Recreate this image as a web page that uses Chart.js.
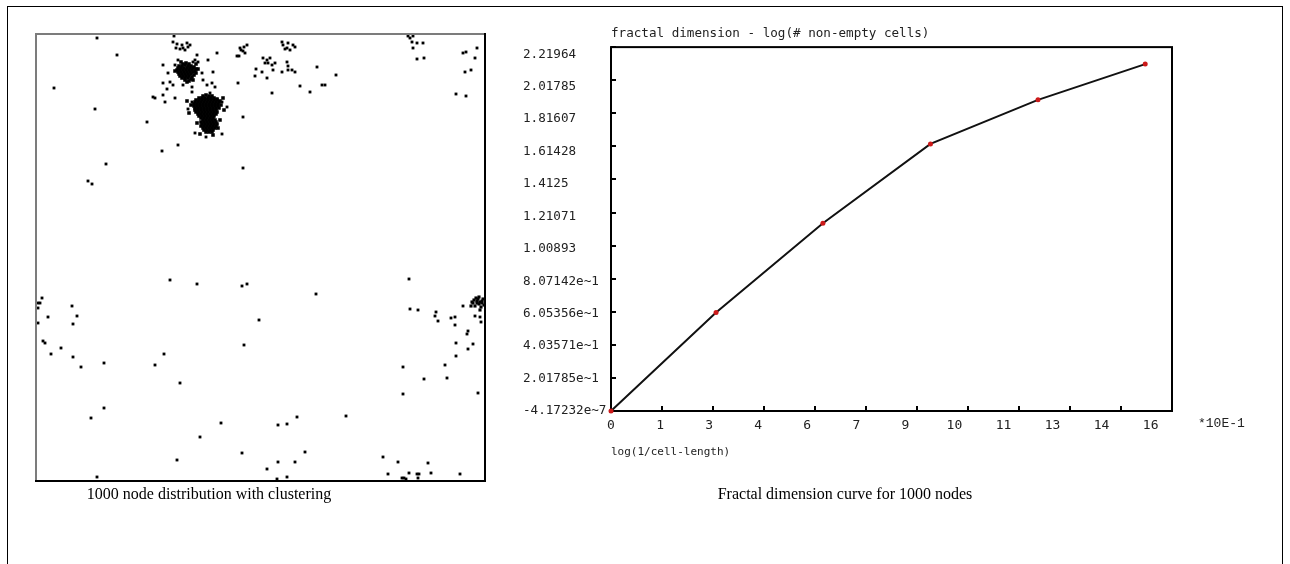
<!DOCTYPE html>
<html lang="en">
<head>
<meta charset="UTF-8">
<title>Fractal dimension of a clustered node distribution</title>
<script src="https://cdn.jsdelivr.net/npm/chart.js@4.4.1/dist/chart.umd.min.js"></script>
<style>
  html, body { margin: 0; padding: 0; background: #fff; }
  body { width: 1290px; height: 564px; position: relative; overflow: hidden; }
  #frame { position: absolute; left: 7px; top: 6px; width: 1274px; height: 600px; border: 1px solid #000; }
  canvas { position: absolute; }
  #nodes { left: 30px; top: 28px; }
  #fractal { left: 515px; top: 15px; }
  .caption { position: absolute; top: 485px; line-height: 18px; font-family: "Liberation Serif", "Times New Roman", serif;
             font-size: 16px; color: #000; white-space: nowrap; transform: translateX(-50%); }
</style>
</head>
<body>
<div id="frame"></div>
<canvas id="nodes" width="462" height="460"></canvas>
<canvas id="fractal" width="765" height="450"></canvas>
<div class="caption" style="left:209px">1000 node distribution with clustering</div>
<div class="caption" style="left:845px">Fractal dimension curve for 1000 nodes</div>
<script>
// ---- left panel: node positions (field units, y grows downwards) ----
const sparseNodes = [
  [60,3],[137,1],[80,20],[17,53],[58,74],[110,87],[125,116],[141,110],[69,129],[51,146],[55,149],
  [206,133],[206,82],[201,48],[219,34],[218,41],[180,18],
  [126,30],[131,38],[126,48],[136,50],[130,54],[116,62],[118,63],[126,60],[128,67],[138,63],
  [151,74],[155,67],[155,52],[160,20],[158,25],[165,38],[166,45],[171,25],[176,37],[170,50],
  [175,48],[178,52],[173,58],[185,67],[190,72],[158,98],[185,99],[169,102],[138,30],[141,25],
  [133,47],[146,50],[155,57],[156,27],[161,27],
  [136,7],[140,9],[145,10],[150,8],[153,10],[139,13],[143,14],[146,13],[148,15],[151,12],
  [203,13],[206,16],[208,18],[210,10],[200,21],[202,21],[204,15],[207,12],
  [245,7],[246,10],[251,8],[256,10],[250,13],[253,15],[248,14],[258,12],[226,23],[230,25],
  [231,28],[228,28],[233,23],[235,30],[238,28],[225,37],[236,35],[245,37],[250,27],[251,31],
  [255,35],[258,37],[251,35],[230,43],[235,58],[280,32],[263,51],[273,57],[285,50],[288,50],
  [299,40],[371,1],[373,3],[375,7],[380,8],[386,8],[376,1],[376,13],[380,24],[387,23],
  [426,18],[429,17],[440,13],[438,23],[428,37],[434,35],[419,59],[429,61],
  [133,245],[160,249],[205,251],[210,249],[222,285],[1,268],[3,268],[5,263],[1,273],[1,288],
  [11,282],[35,271],[40,281],[36,289],[6,306],[8,308],[14,319],[24,313],[36,322],[44,332],
  [67,328],[118,330],[127,319],[207,310],[143,348],[67,373],[54,383],[184,388],[163,402],
  [140,425],[205,418],[60,442],
  [279,259],[372,244],[373,274],[381,275],[399,277],[398,281],[401,286],[414,283],[418,282],
  [418,290],[426,271],[438,281],[443,282],[444,287],[431,296],[430,299],[436,309],[431,314],
  [419,308],[419,321],[408,330],[410,343],[387,344],[366,332],[366,359],[441,358],[309,381],
  [260,382],[241,390],[250,389],[268,417],[241,427],[258,427],[230,434],[240,444],[250,442],
  [346,422],[361,427],[351,439],[365,443],[367,443],[369,444],[372,438],[380,439],[382,439],
  [381,443],[391,428],[394,438],[423,439]
];
const clusterEdge = [
  [435,267],[437,265],[439,263],[441,264],[443,267],[440,268],[442,269],[445,266],[436,268],
  [440,266],[444,272],[438,271],[442,262],[445,268],[434,271],[443,275],[446,264],[447,270]
];
const clusterA = [
  [146,29],[149,28],[152,29],
  [142,31],[145,31],[148,30],[151,31],[154,31],[157,32],
  [141,33],[144,33],[147,33],[150,33],[153,33],[156,33],[159,34],
  [140,35],[143,35],[146,35],[149,35],[152,35],[155,35],[158,36],
  [141,37],[144,37],[147,37],[150,37],[153,37],[156,37],[159,38],
  [142,39],[145,39],[148,39],[151,39],[154,39],[157,40],
  [143,41],[146,41],[149,41],[152,41],[155,42],
  [145,43],[148,43],[151,43],[154,44],
  [148,45],[152,46],
  [138,36],[161,34],[150,47],[156,45],[144,27],[159,29]
];
const clusterB = [
  [166,61],[169,60],[172,61],[175,61],
  [162,63],[165,63],[168,63],[171,63],[174,63],[177,63],[180,64],
  [159,65],[162,65],[165,65],[168,65],[171,65],[174,65],[177,65],[180,65],[183,66],
  [158,67],[161,67],[164,67],[167,67],[170,67],[173,67],[176,67],[179,67],[182,67],
  [157,69],[160,69],[163,69],[166,69],[169,69],[172,69],[175,69],[178,69],[181,69],[184,70],
  [157,71],[160,71],[163,71],[166,71],[169,71],[172,71],[175,71],[178,71],[181,71],
  [158,73],[161,73],[164,73],[167,73],[170,73],[173,73],[176,73],[179,73],[182,73],
  [158,75],[161,75],[164,75],[167,75],[170,75],[173,75],[176,75],[179,75],
  [159,77],[162,77],[165,77],[168,77],[171,77],[174,77],[177,77],[180,77],
  [161,79],[164,79],[167,79],[170,79],[173,79],[176,79],[179,79],
  [162,81],[165,81],[168,81],[171,81],[174,81],[177,81],
  [164,83],[167,83],[170,83],[173,83],[176,83],
  [166,85],[169,85],[172,85],[175,85],[178,85],
  [164,87],[167,87],[170,87],[173,87],[176,87],[179,87],
  [165,89],[168,89],[171,89],[174,89],[177,89],[180,89],
  [164,91],[167,91],[170,91],[173,91],[176,91],[179,91],
  [166,93],[169,93],[172,93],[175,93],[178,93],
  [167,95],[170,95],[173,95],[176,95],
  [169,97],[172,97],[175,97],
  [154,70],[186,63],[187,75],[152,78],[183,85],[160,88],[181,93],[163,99],[176,100],[150,66]
];

// ---- right panel: fractal dimension curve ----
const chartTitle = 'fractal dimension - log(# non-empty cells)';
const xAxisTitle = 'log(1/cell-length)';
const xUnitLabel = '*10E-1';
const xTickLabels = ['0','1','3','4','6','7','9','10','11','13','14','16'];
const xTickValues = [0, 1.427, 2.855, 4.282, 5.709, 7.136, 8.564, 9.991, 11.418, 12.845, 14.273, 15.7];
const yTickLabels = ['-4.17232e~7','2.01785e~1','4.03571e~1','6.05356e~1','8.07142e~1','1.00893',
                     '1.21071','1.4125','1.61428','1.81607','2.01785','2.21964'];
const logInvCellLength = [0, 2.94, 5.93, 8.94, 11.95, 14.95];
const logNonEmptyCells = [0, 0.601, 1.145, 1.629, 1.898, 2.116];

const yTickValues = yTickLabels.map(s => parseFloat(s.replace('~', '-')));
const mono = 'DejaVu Sans Mono';

const sunkenFrame = {
  id: 'sunkenFrame',
  afterDatasetsDraw(chart) {
    const { ctx, chartArea: a } = chart;
    ctx.save();
    ctx.lineWidth = 2;
    ctx.strokeStyle = '#7c7c7c';
    ctx.beginPath();
    ctx.moveTo(a.left - 1, a.bottom);
    ctx.lineTo(a.left - 1, a.top - 1);
    ctx.lineTo(a.right, a.top - 1);
    ctx.stroke();
    ctx.strokeStyle = '#000';
    ctx.beginPath();
    ctx.moveTo(a.right, a.top - 2);
    ctx.lineTo(a.right, a.bottom);
    ctx.lineTo(a.left - 2, a.bottom);
    ctx.stroke();
    ctx.restore();
  }
};

const nodeSet = (data, r) => ({
  data: data,
  pointStyle: 'rect',
  pointRadius: r,
  backgroundColor: '#000',
  borderWidth: 0,
  clip: false
});

new Chart(document.getElementById('nodes'), {
  type: 'scatter',
  data: {
    datasets: [nodeSet(sparseNodes, 2), nodeSet(clusterEdge, 2.2), nodeSet(clusterA, 2.5), nodeSet(clusterB, 2.5)]
  },
  options: {
    responsive: false,
    animation: false,
    events: [],
    layout: { padding: { left: 7, top: 7, right: 7, bottom: 7 } },
    plugins: { legend: { display: false }, tooltip: { enabled: false } },
    scales: {
      x: { type: 'linear', min: 0, max: 448, display: false },
      y: { type: 'linear', min: 0, max: 446, reverse: true, display: false }
    }
  },
  plugins: [sunkenFrame]
});

const plotFrame = {
  id: 'plotFrame',
  beforeDatasetsDraw(chart) {
    const { ctx, chartArea: a, scales } = chart;
    ctx.save();
    ctx.strokeStyle = '#000';
    ctx.lineWidth = 2;
    ctx.strokeRect(a.left, a.top, a.right - a.left, a.bottom - a.top);
    ctx.beginPath();
    xTickValues.forEach(v => {
      const px = Math.round(scales.x.getPixelForValue(v));
      ctx.moveTo(px, a.bottom);
      ctx.lineTo(px, a.bottom - 5);
    });
    yTickValues.forEach(v => {
      const py = Math.round(scales.y.getPixelForValue(v));
      ctx.moveTo(a.left, py);
      ctx.lineTo(a.left + 5, py);
    });
    ctx.stroke();
    ctx.restore();
  },
  afterDraw(chart) {
    const { ctx, chartArea: a, scales } = chart;
    ctx.save();
    ctx.fillStyle = '#222';
    ctx.font = '13px "Liberation Mono"';
    ctx.textAlign = 'left';
    ctx.textBaseline = 'middle';
    ctx.fillText(xUnitLabel, a.right + 26, scales.xLab.top + 13);
    ctx.restore();
  }
};

new Chart(document.getElementById('fractal'), {
  type: 'line',
  data: {
    datasets: [{
      data: logInvCellLength.map((x, i) => ({ x: x, y: logNonEmptyCells[i] })),
      xAxisID: 'x',
      yAxisID: 'y',
      borderColor: '#111',
      borderWidth: 2,
      pointRadius: 2.5,
      pointBackgroundColor: '#cc1a1a',
      pointBorderWidth: 0,
      tension: 0,
      clip: false
    }]
  },
  options: {
    responsive: false,
    animation: false,
    events: [],
    layout: { padding: { left: 8, right: 108, top: 11, bottom: 2 } },
    plugins: {
      legend: { display: false },
      tooltip: { enabled: false },
      title: {
        display: true, text: chartTitle, align: 'start', fullSize: false, color: '#222',
        font: { family: mono, size: 12.6, weight: 'normal' }, padding: { top: 0, bottom: 6 }
      }
    },
    scales: {
      x: { type: 'linear', min: 0, max: 15.7, display: false },
      y: { type: 'linear', min: -4.17232e-7, max: 2.21964, display: false },
      xLab: {
        axis: 'x', type: 'linear', position: 'bottom', min: 0, max: 11.435,
        afterBuildTicks: s => { s.ticks = xTickLabels.map((t, i) => ({ value: i })); },
        afterFit: s => { s.height = 52; },
        grid: { display: false, drawTicks: false },
        border: { display: false },
        ticks: {
          autoSkip: false, maxRotation: 0, padding: 7, color: '#222',
          font: { family: mono, size: 13 },
          callback: v => xTickLabels[v]
        },
        title: {
          display: true, text: xAxisTitle, align: 'start', color: '#222',
          font: { family: mono, size: 11 }, padding: { top: 0, bottom: 4 }
        }
      },
      yLab: {
        axis: 'y', type: 'linear', position: 'left', min: 0, max: 11.22,
        afterBuildTicks: s => { s.ticks = yTickLabels.map((t, i) => ({ value: i })); },
        afterFit: s => { s.width = 88; },
        grid: { display: false, drawTicks: false },
        border: { display: false },
        ticks: {
          autoSkip: false, crossAlign: 'far', color: '#222',
          font: { family: mono, size: 12.6 },
          callback: v => yTickLabels[v]
        }
      }
    }
  },
  plugins: [plotFrame]
});
</script>
</body>
</html>
